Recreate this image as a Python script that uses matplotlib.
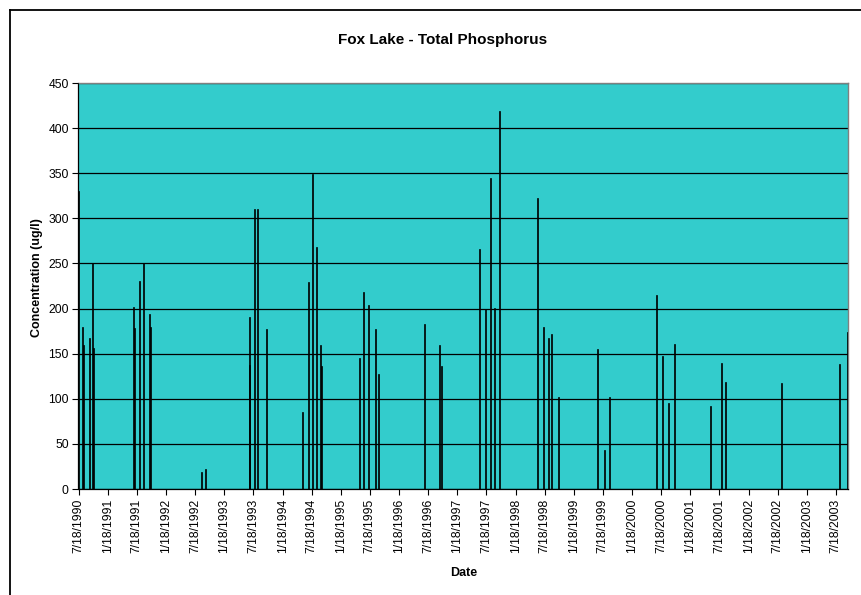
import matplotlib
matplotlib.use("Agg")
import matplotlib.pyplot as plt
import matplotlib.dates as mdates
from matplotlib.lines import Line2D
import numpy as np
import datetime as dt

plt.rcParams['font.family'] = ['Liberation Sans', 'DejaVu Sans']

# ---- data ----
dates = [
    "1990-07-18", "1990-08-14", "1990-08-20", "1990-09-25", "1990-10-14", "1990-10-18",
    "1991-06-30", "1991-07-04", "1991-08-02", "1991-08-28", "1991-10-08", "1991-10-12",
    "1992-08-25", "1992-09-19",
    "1993-06-22", "1993-06-26", "1993-07-27", "1993-08-15", "1993-10-10",
    "1994-05-24", "1994-06-27", "1994-07-26", "1994-08-16", "1994-09-12", "1994-09-16",
    "1995-05-16", "1995-06-10", "1995-07-12", "1995-08-21", "1995-09-09",
    "1996-06-26", "1996-09-26", "1996-10-09",
    "1997-06-08", "1997-07-13", "1997-08-12", "1997-09-08", "1997-10-07",
    "1998-06-02", "1998-07-12", "1998-08-10", "1998-09-02", "1998-10-12",
    "1999-06-14", "1999-07-28", "1999-09-01",
    "2000-06-18", "2000-07-25", "2000-09-01", "2000-10-10",
    "2001-05-24", "2001-07-30", "2001-08-26",
    "2002-08-12",
    "2003-08-09", "2003-10-02",
]
tp_values = [
    330, 180, 160, 167, 250, 156,
    202, 179, 230, 250, 194, 180,
    19, 22,
    191, 137, 310, 310, 177,
    85, 229, 349, 268, 160, 136,
    145, 218, 204, 177, 127,
    183, 160, 136,
    266, 199, 345, 201, 419,
    323, 180, 167, 172, 102,
    155, 43, 102,
    215, 147, 95, 161,
    92, 140, 119,
    118,
    138, 174,
]
tick_dates = [
    "1990-07-18", "1991-01-18", "1991-07-18", "1992-01-18", "1992-07-18",
    "1993-01-18", "1993-07-18", "1994-01-18", "1994-07-18", "1995-01-18",
    "1995-07-18", "1996-01-18", "1996-07-18", "1997-01-18", "1997-07-18",
    "1998-01-18", "1998-07-18", "1999-01-18", "1999-07-18", "2000-01-18",
    "2000-07-18", "2001-01-18", "2001-07-18", "2002-01-18", "2002-07-18",
    "2003-01-18", "2003-07-18",
]
tick_labels = [
    "7/18/1990", "1/18/1991", "7/18/1991", "1/18/1992", "7/18/1992",
    "1/18/1993", "7/18/1993", "1/18/1994", "7/18/1994", "1/18/1995",
    "7/18/1995", "1/18/1996", "7/18/1996", "1/18/1997", "7/18/1997",
    "1/18/1998", "7/18/1998", "1/18/1999", "7/18/1999", "1/18/2000",
    "7/18/2000", "1/18/2001", "7/18/2001", "1/18/2002", "7/18/2002",
    "1/18/2003", "7/18/2003",
]
y_ticks = [0, 50, 100, 150, 200, 250, 300, 350, 400, 450]
x_start = "1990-07-18"
x_end = "2003-10-03"

W, H = 862, 595
fig = plt.figure(figsize=(W / 100, H / 100), dpi=100)
fig.patch.set_facecolor('white')

left_px, right_px, top_px, bot_px = 78.5, 848, 83, 489
ax = fig.add_axes([left_px / W, 1 - bot_px / H, (right_px - left_px) / W, (bot_px - top_px) / H])
ax.set_facecolor('#33CCCC')

to_num = lambda s: mdates.date2num(dt.datetime.strptime(s, "%Y-%m-%d"))
xd = [to_num(d) for d in dates]

ax.set_ylim(0, 450)
ax.set_yticks(y_ticks)
ax.yaxis.grid(True, color='black', linewidth=0.9)
ax.set_axisbelow(True)

ax.bar(xd, tp_values, width=7, color='black', edgecolor='black', linewidth=0.5,
       align='center', zorder=3)

ax.set_xlim(to_num(x_start), to_num(x_end))
ax.set_xticks([to_num(d) for d in tick_dates])
ax.set_xticklabels(tick_labels, rotation=90, fontsize=8.7)
ax.tick_params(axis='y', labelsize=8.7, length=4, width=0.8, direction='out', pad=3)
ax.tick_params(axis='x', length=4, width=0.8, direction='out', pad=3)

for s in ['top', 'right']:
    ax.spines[s].set_color('#808080')
    ax.spines[s].set_linewidth(1.0)
for s in ['left', 'bottom']:
    ax.spines[s].set_color('black')
    ax.spines[s].set_linewidth(0.9)

fig.text(442.5 / W, 1 - 40 / H, "Fox Lake - Total Phosphorus", ha='center', va='center',
         fontsize=11, fontweight='bold')
fig.text(37 / W, 1 - 278 / H, "Concentration (ug/l)", ha='center', va='center',
         rotation=90, fontsize=9, fontweight='bold')
fig.text(464 / W, 1 - 573 / H, "Date", ha='center', va='center', fontsize=9, fontweight='bold')

# outer chart border (left and top visible)
fig.add_artist(Line2D([10 / W, 10 / W], [0, 1 - 10 / H], transform=fig.transFigure,
                      color='black', linewidth=1.3))
fig.add_artist(Line2D([10 / W, 1], [1 - 10 / H, 1 - 10 / H], transform=fig.transFigure,
                      color='black', linewidth=1.3))

fig.savefig("out.png", dpi=100)
